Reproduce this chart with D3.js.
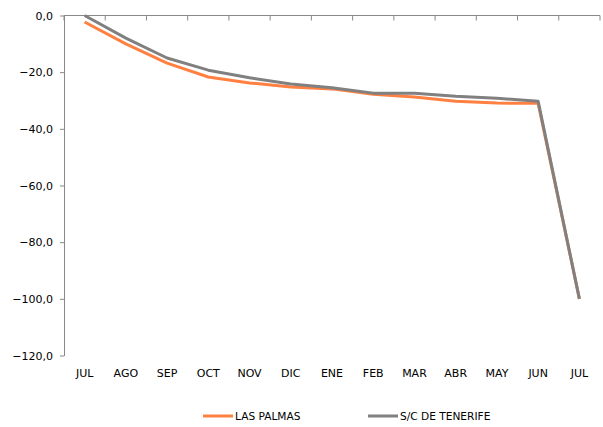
<!DOCTYPE html>
<html>
<head>
<meta charset="utf-8">
<script src="https://cdn.jsdelivr.net/npm/d3@7"></script>
<style>
  body { margin: 0; background: #fff; }
  text { font-family: "DejaVu Sans", Verdana, sans-serif; fill: #000; }
</style>
</head>
<body>
<svg width="603" height="427"></svg>
<script>
const MONTHS = ["JUL","AGO","SEP","OCT","NOV","DIC","ENE","FEB","MAR","ABR","MAY","JUN","JUL"];
const LAS_PALMAS = [-2.3,-10,-16.8,-21.7,-23.8,-25.2,-25.9,-27.8,-28.8,-30.3,-30.9,-31,-100];
const TENERIFE = [0,-8,-15,-19.3,-22,-24.2,-25.5,-27.4,-27.4,-28.5,-29.2,-30.3,-100];
const Y_TICKS = [0,-20,-40,-60,-80,-100,-120];

const svg = d3.select("svg");
const mLeft = 64, mTop = 15.5, mRight = 600, mBottom = 355.5;

const x = d3.scaleBand().domain(d3.range(MONTHS.length)).range([mLeft, mRight]);
const y = d3.scaleLinear().domain([-120, 0]).range([mBottom, mTop]);
const fmt = d => d3.format(".1f")(d).replace(".", ",");

// y axis
const yAxis = svg.append("g")
  .attr("transform", `translate(${mLeft},0)`)
  .call(d3.axisLeft(y).tickValues(Y_TICKS).tickFormat(fmt).tickSize(4).tickPadding(7).tickSizeOuter(0));
yAxis.select(".domain").attr("stroke", "#888");
yAxis.selectAll(".tick line").attr("stroke", "#888");
yAxis.selectAll("text").style("font-size", "11px");

// x axis line at zero, ticks between categories
const xAxis = svg.append("g")
  .attr("transform", `translate(0,${mTop})`);
xAxis.append("line").attr("x1", mLeft).attr("x2", mRight).attr("stroke", "#888");
xAxis.selectAll(".t")
  .data(d3.range(MONTHS.length + 1))
  .enter().append("line")
  .attr("x1", i => mLeft + i * x.step()).attr("x2", i => mLeft + i * x.step())
  .attr("y1", 0).attr("y2", 5).attr("stroke", "#888");

svg.append("g").selectAll("text")
  .data(MONTHS)
  .enter().append("text")
  .attr("x", (d, i) => x(i) + x.bandwidth() / 2)
  .attr("y", 377)
  .attr("text-anchor", "middle")
  .style("font-size", "11px")
  .text(d => d);

const line = d3.line()
  .x((d, i) => x(i) + x.bandwidth() / 2)
  .y(d => y(d));

const SERIES = [
  {name: "LAS PALMAS", values: LAS_PALMAS, color: "#FF8040"},
  {name: "S/C DE TENERIFE", values: TENERIFE, color: "#808080"}
];

SERIES.forEach(s => {
  svg.append("path")
    .datum(s.values)
    .attr("fill", "none")
    .attr("stroke", s.color)
    .attr("stroke-width", 3)
    .attr("stroke-linejoin", "round")
    .attr("d", line);
});

// legend
const legendX = [203, 368];
SERIES.forEach((s, i) => {
  const g = svg.append("g").attr("transform", `translate(${legendX[i]},416)`);
  g.append("line").attr("x1", 0).attr("x2", 30).attr("stroke", s.color).attr("stroke-width", 3);
  g.append("text").attr("x", 32).attr("y", 4).style("font-size", "10.6px").text(s.name);
});
</script>
</body>
</html>
